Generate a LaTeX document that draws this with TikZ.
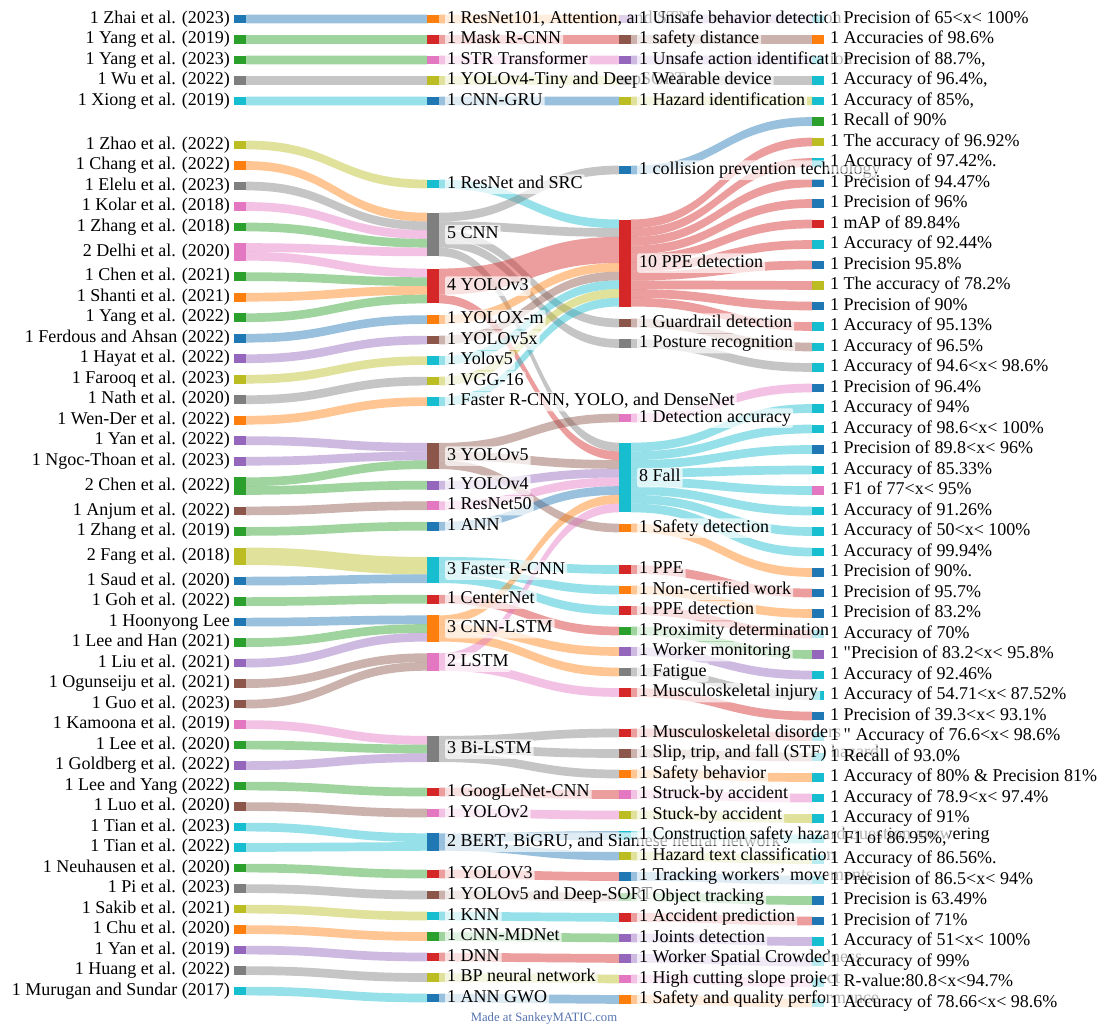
\documentclass[tikz,border=0pt]{standalone}
\usepackage{fontspec}
\setmainfont{Liberation Serif}
\newfontfamily\rawserif[Ligatures=TeXOff]{Liberation Serif}
\usetikzlibrary{calc}
\definecolor{cBlue}{HTML}{1F77B4}
\definecolor{cOrange}{HTML}{FF7F0E}
\definecolor{cGreen}{HTML}{2CA02C}
\definecolor{cRed}{HTML}{D62728}
\definecolor{cPurple}{HTML}{9467BD}
\definecolor{cBrown}{HTML}{8C564B}
\definecolor{cPink}{HTML}{E377C2}
\definecolor{cGray}{HTML}{7F7F7F}
\definecolor{cOlive}{HTML}{BCBD22}
\definecolor{cCyan}{HTML}{17BECF}
\definecolor{footBlue}{RGB}{85,115,175}
\newcommand\lab{\fontsize{18}{20}\selectfont}
\newcommand\sdq{{\rawserif"}}
% flow band: source node, source offset (units), target node, target offset, value, colour
\newcommand\sflow[6]{%
 \fill[fill=#6,fill opacity=0.45] ($(#1.north east)+(0,#2*8.7)$)
   .. controls +(90,0) and +(-90,0) .. ($(#3.north west)+(0,#4*8.7)$)
   -- ++(0,#5*8.7)
   .. controls +(-90,0) and +(90,0) .. ($(#1.north east)+(0,{(#2+#5)*8.7})$) -- cycle;}
\tikzset{
 sbar/.style={rectangle,fill=#1,draw=none,minimum width=12pt,inner sep=0pt,outer sep=0pt},
 lbl/.style={fill=white,fill opacity=0.7,text opacity=1,inner xsep=2pt,inner ysep=1.5pt,
   text height=12.5pt,text depth=4pt,rounded corners=2pt,font=\lab},
 lblL/.style={lbl,anchor=east},
 lblR/.style={lbl,anchor=west}
}
\begin{document}
\begin{tikzpicture}[x=1pt,y=-1pt]
\useasboundingbox[fill=white] (0,0) rectangle (1104,1025);
% ---------- nodes (bars) ----------
\foreach \yy/\cl/\hh [count=\i] in {19/cBlue/8.7,39.5/cGreen/8.7,60/cGreen/8.7,80.5/cGray/8.7,101/cCyan/8.7,
 145/cOlive/8.7,165.5/cOrange/8.7,186/cGray/8.7,206.5/cPink/8.7,227/cGreen/8.7,251.9/cPink/17.4,
 276.7/cGreen/8.7,297.2/cOrange/8.7,317.7/cGreen/8.7,338.2/cBlue/8.7,358.7/cPurple/8.7,379.2/cOlive/8.7,
 399.7/cGray/8.7,420.2/cOrange/8.7,440.7/cPurple/8.7,461.2/cPurple/8.7,486.1/cGreen/17.4,510.9/cBrown/8.7,
 531.4/cGreen/8.7,556.3/cOlive/17.4,581.1/cBlue/8.7,601.6/cGreen/8.7,622.1/cBlue/8.7,642.6/cGreen/8.7,
 663.1/cPurple/8.7,683.6/cBrown/8.7,704.1/cBrown/8.7,724.6/cPink/8.7,745.1/cGreen/8.7,765.6/cPurple/8.7,
 786.1/cGreen/8.7,806.6/cBrown/8.7,827.1/cCyan/8.7,847.6/cCyan/8.7,868.1/cGreen/8.7,888.6/cGray/8.7,
 909.1/cOlive/8.7,929.6/cOrange/8.7,950.1/cPurple/8.7,970.6/cGray/8.7,991.1/cCyan/8.7}
 {\node[sbar=\cl,minimum height=\hh pt] (a\i) at (240,\yy) {};}
\foreach \yy/\cl/\hh [count=\i] in {19/cOrange/8.7,39.5/cRed/8.7,60/cPink/8.7,80.5/cOlive/8.7,101/cBlue/8.7,
 184/cCyan/8.7,234.5/cGray/43.5,286/cRed/34.8,319.6/cOrange/8.7,340.1/cBrown/8.7,360.6/cCyan/8.7,
 381.1/cOlive/8.7,401.6/cCyan/8.7,456/cBrown/26.1,485.2/cPurple/8.7,505.7/cPink/8.7,526.2/cBlue/8.7,
 570/cCyan/26.1,599.2/cRed/8.7,628.5/cOrange/26.1,662/cPink/17.4,749/cGray/26.1,792/cRed/8.7,
 813/cPink/8.7,842/cBlue/17.4,874/cRed/8.7,895/cBrown/8.7,916/cCyan/8.7,936.5/cGreen/8.7,957/cRed/8.7,
 977.5/cOlive/8.7,998/cBlue/8.7}
 {\node[sbar=\cl,minimum height=\hh pt] (b\i) at (433,\yy) {};}
\foreach \yy/\cl/\hh [count=\i] in {19/cPurple/8.7,39.5/cBrown/8.7,60/cPurple/8.7,80.5/cGray/8.7,101/cOlive/8.7,
 170/cBlue/8.7,263/cRed/87,323/cBrown/8.7,343.5/cGray/8.7,418/cPink/8.7,477.5/cCyan/69.6,528/cOrange/8.7,
 569.5/cRed/8.7,590/cOrange/8.7,610.5/cRed/8.7,631/cGreen/8.7,651.5/cPurple/8.7,672/cGray/8.7,
 692.5/cRed/8.7,733/cRed/8.7,753.5/cBrown/8.7,774/cOrange/8.7,794.5/cPink/8.7,815/cOlive/8.7,
 835.5/cCyan/8.7,856/cOlive/8.7,876.5/cBlue/8.7,897/cGreen/8.7,917.5/cRed/8.7,938/cPurple/8.7,
 958.5/cPurple/8.7,979/cPink/8.7,999.5/cOrange/8.7}
 {\node[sbar=\cl,minimum height=\hh pt] (c\i) at (625,\yy) {};}
\foreach \cl [count=\i from 0] in {cCyan,cOrange,cCyan,cCyan,cCyan,cGreen,cOlive,cCyan,cBlue,cBlue,
 cRed,cCyan,cBlue,cOlive,cBlue,cCyan,cCyan,cCyan,cBlue,cCyan,cCyan,cBlue,cCyan,cPink,cCyan,cCyan,cCyan,
 cBlue,cBlue,cBlue,cCyan,cPurple,cCyan,cCyan,cBlue,cCyan,cCyan,cCyan,cCyan,cCyan,cCyan,cCyan,cCyan,
 cBlue,cBlue,cCyan,cCyan,cCyan,cCyan}
 {\node[sbar=\cl,minimum height=8.7pt] (d\i) at (818,{19+20.5*\i}) {};}
% ---------- flows: authors -> methods ----------
\begin{scope}
\sflow{a1}{0}{b1}{0}{1}{cBlue}
\sflow{a2}{0}{b2}{0}{1}{cGreen}
\sflow{a3}{0}{b3}{0}{1}{cGreen}
\sflow{a4}{0}{b4}{0}{1}{cGray}
\sflow{a5}{0}{b5}{0}{1}{cCyan}
\sflow{a6}{0}{b6}{0}{1}{cOlive}
\sflow{a7}{0}{b7}{0}{1}{cOrange}
\sflow{a8}{0}{b7}{1}{1}{cGray}
\sflow{a9}{0}{b7}{2}{1}{cPink}
\sflow{a10}{0}{b7}{3}{1}{cGreen}
\sflow{a11}{0}{b7}{4}{1}{cPink}
\sflow{a11}{1}{b8}{0}{1}{cPink}
\sflow{a12}{0}{b8}{1}{1}{cGreen}
\sflow{a13}{0}{b8}{2}{1}{cOrange}
\sflow{a14}{0}{b8}{3}{1}{cGreen}
\sflow{a15}{0}{b9}{0}{1}{cBlue}
\sflow{a16}{0}{b10}{0}{1}{cPurple}
\sflow{a17}{0}{b11}{0}{1}{cOlive}
\sflow{a18}{0}{b12}{0}{1}{cGray}
\sflow{a19}{0}{b13}{0}{1}{cOrange}
\sflow{a20}{0}{b14}{0}{1}{cPurple}
\sflow{a21}{0}{b14}{1}{1}{cPurple}
\sflow{a22}{0}{b14}{2}{1}{cGreen}
\sflow{a22}{1}{b15}{0}{1}{cGreen}
\sflow{a23}{0}{b16}{0}{1}{cBrown}
\sflow{a24}{0}{b17}{0}{1}{cGreen}
\sflow{a25}{0}{b18}{0}{2}{cOlive}
\sflow{a26}{0}{b18}{2}{1}{cBlue}
\sflow{a27}{0}{b19}{0}{1}{cGreen}
\sflow{a28}{0}{b20}{0}{1}{cBlue}
\sflow{a29}{0}{b20}{1}{1}{cGreen}
\sflow{a30}{0}{b20}{2}{1}{cPurple}
\sflow{a31}{0}{b21}{0}{1}{cBrown}
\sflow{a32}{0}{b21}{1}{1}{cBrown}
\sflow{a33}{0}{b22}{0}{1}{cPink}
\sflow{a34}{0}{b22}{1}{1}{cGreen}
\sflow{a35}{0}{b22}{2}{1}{cPurple}
\sflow{a36}{0}{b23}{0}{1}{cGreen}
\sflow{a37}{0}{b24}{0}{1}{cBrown}
\sflow{a38}{0}{b25}{0}{1}{cCyan}
\sflow{a39}{0}{b25}{1}{1}{cCyan}
\sflow{a40}{0}{b26}{0}{1}{cGreen}
\sflow{a41}{0}{b27}{0}{1}{cGray}
\sflow{a42}{0}{b28}{0}{1}{cOlive}
\sflow{a43}{0}{b29}{0}{1}{cOrange}
\sflow{a44}{0}{b30}{0}{1}{cPurple}
\sflow{a45}{0}{b31}{0}{1}{cGray}
\sflow{a46}{0}{b32}{0}{1}{cCyan}
% ---------- flows: methods -> tasks ----------
\sflow{b1}{0}{c1}{0}{1}{cOrange}
\sflow{b2}{0}{c2}{0}{1}{cRed}
\sflow{b3}{0}{c3}{0}{1}{cPink}
\sflow{b4}{0}{c4}{0}{1}{cOlive}
\sflow{b5}{0}{c5}{0}{1}{cBlue}
\sflow{b6}{0}{c7}{0}{1}{cCyan}
\sflow{b7}{0}{c6}{0}{1}{cGray}
\sflow{b7}{1}{c7}{1}{1}{cGray}
\sflow{b7}{2}{c8}{0}{1}{cGray}
\sflow{b7}{3}{c9}{0}{1}{cGray}
\sflow{b7}{4}{c11}{0}{1}{cGray}
\sflow{b8}{0}{c7}{2}{3}{cRed}
\sflow{b8}{3}{c11}{1}{1}{cRed}
\sflow{b9}{0}{c7}{5}{1}{cOrange}
\sflow{b10}{0}{c7}{6}{1}{cBrown}
\sflow{b11}{0}{c7}{7}{1}{cCyan}
\sflow{b12}{0}{c7}{8}{1}{cOlive}
\sflow{b13}{0}{c7}{9}{1}{cCyan}
\sflow{b14}{0}{c10}{0}{1}{cBrown}
\sflow{b14}{1}{c11}{2}{1}{cBrown}
\sflow{b14}{2}{c12}{0}{1}{cBrown}
\sflow{b15}{0}{c11}{3}{1}{cPurple}
\sflow{b16}{0}{c11}{4}{1}{cPink}
\sflow{b17}{0}{c11}{5}{1}{cBlue}
\sflow{b18}{0}{c13}{0}{1}{cCyan}
\sflow{b18}{1}{c14}{0}{1}{cCyan}
\sflow{b18}{2}{c15}{0}{1}{cCyan}
\sflow{b19}{0}{c16}{0}{1}{cRed}
\sflow{b20}{0}{c11}{6}{1}{cOrange}
\sflow{b20}{1}{c17}{0}{1}{cOrange}
\sflow{b20}{2}{c18}{0}{1}{cOrange}
\sflow{b21}{0}{c11}{7}{1}{cPink}
\sflow{b21}{1}{c19}{0}{1}{cPink}
\sflow{b22}{0}{c20}{0}{1}{cGray}
\sflow{b22}{1}{c21}{0}{1}{cGray}
\sflow{b22}{2}{c22}{0}{1}{cGray}
\sflow{b23}{0}{c23}{0}{1}{cRed}
\sflow{b24}{0}{c24}{0}{1}{cPink}
\sflow{b25}{0}{c25}{0}{1}{cBlue}
\sflow{b25}{1}{c26}{0}{1}{cBlue}
\sflow{b26}{0}{c27}{0}{1}{cRed}
\sflow{b27}{0}{c28}{0}{1}{cBrown}
\sflow{b28}{0}{c29}{0}{1}{cCyan}
\sflow{b29}{0}{c30}{0}{1}{cGreen}
\sflow{b30}{0}{c31}{0}{1}{cRed}
\sflow{b31}{0}{c32}{0}{1}{cOlive}
\sflow{b32}{0}{c33}{0}{1}{cBlue}
% ---------- flows: tasks -> results ----------
\foreach \fsrc/\foff/\ftg/\fcol in {c1/0/0/cPurple,c2/0/1/cBrown,c3/0/2/cPurple,c4/0/3/cGray,
 c5/0/4/cOlive,c6/0/5/cBlue,c7/0/6/cRed,c7/1/7/cRed,c7/2/8/cRed,c7/3/9/cRed,c7/4/10/cRed,c7/5/11/cRed,
 c7/6/12/cRed,c7/7/13/cRed,c7/8/14/cRed,c7/9/15/cRed,c8/0/16/cBrown,c9/0/17/cGray,c10/0/18/cPink,
 c11/0/19/cCyan,c11/1/20/cCyan,c11/2/21/cCyan,c11/3/22/cCyan,c11/4/23/cCyan,c11/5/24/cCyan,
 c11/6/25/cCyan,c11/7/26/cCyan,c12/0/27/cOrange,c13/0/28/cRed,c14/0/29/cOrange,c15/0/30/cRed,
 c16/0/31/cGreen,c17/0/32/cPurple,c18/0/33/cGray,c19/0/34/cRed,c20/0/35/cRed,c21/0/36/cBrown,
 c22/0/37/cOrange,c23/0/38/cPink,c24/0/39/cOlive,c25/0/40/cCyan,c26/0/41/cOlive,c27/0/42/cBlue,
 c28/0/43/cGreen,c29/0/44/cRed,c30/0/45/cPurple,c31/0/46/cPurple,c32/0/47/cPink,c33/0/48/cOrange}
 {\sflow{\fsrc}{\foff}{d\ftg}{0}{1}{\fcol}}
\end{scope}
% ---------- labels ----------
\foreach \yy/\tx [count=\i] in {19/{1 Zhai et al. (2023)},39.5/{1 Yang et al. (2019)},60/{1 Yang et al. (2023)},
 80.5/{1 Wu et al. (2022)},101/{1 Xiong et al. (2019)},145/{1 Zhao et al. (2022)},165.5/{1 Chang et al. (2022)},
 186/{1 Elelu et al. (2023)},206.5/{1 Kolar et al. (2018)},227/{1 Zhang et al. (2018)},251.9/{2 Delhi et al. (2020)},
 276.7/{1 Chen et al. (2021)},297.2/{1 Shanti et al. (2021)},317.7/{1 Yang et al. (2022)},
 338.2/{1 Ferdous and Ahsan (2022)},358.7/{1 Hayat et al. (2022)},379.2/{1 Farooq et al. (2023)},
 399.7/{1 Nath et al. (2020)},420.2/{1 Wen-Der et al. (2022)},440.7/{1 Yan et al. (2022)},
 461.2/{1 Ngoc-Thoan et al. (2023)},486.1/{2 Chen et al. (2022)},510.9/{1 Anjum et al. (2022)},
 531.4/{1 Zhang et al. (2019)},556.3/{2 Fang et al. (2018)},581.1/{1 Saud et al. (2020)},
 601.6/{1 Goh et al. (2022)},622.1/{1 Hoonyong Lee},642.6/{1 Lee and Han (2021)},663.1/{1 Liu et al. (2021)},
 683.6/{1 Ogunseiju et al. (2021)},704.1/{1 Guo et al. (2023)},724.6/{1 Kamoona et al. (2019)},
 745.1/{1 Lee et al. (2020)},765.6/{1 Goldberg et al. (2022)},786.1/{1 Lee and Yang (2022)},
 806.6/{1 Luo et al. (2020)},827.1/{1 Tian et al. (2023)},847.6/{1 Tian et al. (2022)},
 868.1/{1 Neuhausen et al. (2020)},888.6/{1 Pi et al. (2023)},909.1/{1 Sakib et al. (2021)},
 929.6/{1 Chu et al. (2020)},950.1/{1 Yan et al. (2019)},970.6/{1 Huang et al. (2022)},
 991.1/{1 Murugan and Sundar (2017)}}
 {\node[lblL] (la\i) at (232,\yy) {\tx};}
\foreach \yy/\tx [count=\i] in {19/{1 ResNet101, Attention, and STN},39.5/{1 Mask R-CNN},60/{1 STR Transformer},
 80.5/{1 YOLOv4-Tiny and DeepSORT},101/{1 CNN-GRU},184/{1 ResNet and SRC},234.5/{5 CNN},286/{4 YOLOv3},
 319.6/{1 YOLOX-m},340.1/{1 YOLOv5x},360.6/{1 Yolov5},381.1/{1 VGG-16},401.6/{1 Faster R-CNN, YOLO, and DenseNet},
 456/{3 YOLOv5},485.2/{1 YOLOv4},505.7/{1 ResNet50},526.2/{1 ANN},570/{3 Faster R-CNN},599.2/{1 CenterNet},
 628.5/{3 CNN-LSTM},662/{2 LSTM},749/{3 Bi-LSTM},792/{1 GoogLeNet-CNN},813/{1 YOLOv2},
 842/{2 BERT, BiGRU, and Siamese neural network},874/{1 YOLOV3},895/{1 YOLOv5 and Deep-SORT},916/{1 KNN},
 936.5/{1 CNN-MDNet},957/{1 DNN},977.5/{1 BP neural network},998/{1 ANN GWO}}
 {\node[lblR] (lb\i) at (445,\yy) {\tx};}
\foreach \yy/\tx [count=\i] in {19/{1 Unsafe behavior detection},39.5/{1 safety distance},
 60/{1 Unsafe action identification},80.5/{1 Wearable device},101/{1 Hazard identification},
 170/{1 collision prevention technology},263/{10 PPE detection},323/{1 Guardrail detection},
 343.5/{1 Posture recognition},418/{1 Detection accuracy},477.5/{8 Fall},528/{1 Safety detection},
 569.5/{1 PPE},590/{1 Non-certified work},610.5/{1 PPE detection},631/{1 Proximity determination},
 651.5/{1 Worker monitoring},672/{1 Fatigue},692.5/{1 Musculoskeletal injury},733/{1 Musculoskeletal disorders},
 753.5/{1 Slip, trip, and fall (STF) hazard},774/{1 Safety behavior},794.5/{1 Struck-by accident},
 815/{1 Stuck-by accident},835.5/{1 Construction safety hazard question answering},
 856/{1 Hazard text classification},876.5/{1 Tracking workers' movements},897/{1 Object tracking},
 917.5/{1 Accident prediction},938/{1 Joints detection},958.5/{1 Worker Spatial Crowdedness},
 979/{1 High cutting slope project},999.5/{1 Safety and quality performance}}
 {\node[lblR] (lc\i) at (637,\yy) {\tx};}
\foreach \tx [count=\i from 0] in {{1 Precision of 65<x< 100\%},{1 Accuracies of 98.6\%},{1 Precision of 88.7\%,},
 {1 Accuracy of 96.4\%,},{1 Accuracy of 85\%,},{1 Recall of 90\%},{1 The accuracy of 96.92\%},
 {1 Accuracy of 97.42\%.},{1 Precision of 94.47\%},{1 Precision of 96\%},{1 mAP of 89.84\%},
 {1 Accuracy of 92.44\%},{1 Precision 95.8\%},{1 The accuracy of 78.2\%},{1 Precision of 90\%},
 {1 Accuracy of 95.13\%},{1 Accuracy of 96.5\%},{1 Accuracy of 94.6<x< 98.6\%},{1 Precision of 96.4\%},
 {1 Accuracy of 94\%},{1 Accuracy of 98.6<x< 100\%},{1 Precision of 89.8<x< 96\%},{1 Accuracy of 85.33\%},
 {1 F1 of 77<x< 95\%},{1 Accuracy of 91.26\%},{1 Accuracy of 50<x< 100\%},{1 Accuracy of 99.94\%},
 {1 Precision of 90\%.},{1 Precision of 95.7\%},{1 Precision of 83.2\%},{1 Accuracy of 70\%},
 {1 \sdq Precision of 83.2<x< 95.8\%},{1 Accuracy of 92.46\%},{1 Accuracy of 54.71<x< 87.52\%},
 {1 Precision of 39.3<x< 93.1\%},{1 \sdq{} Accuracy of 76.6<x< 98.6\%},{1 Recall of 93.0\%},
 {1 Accuracy of 80\% \& Precision 81\%},{1 Accuracy of 78.9<x< 97.4\%},{1 Accuracy of 91\%},
 {1 F1 of 86.95\%,},{1 Accuracy of 86.56\%.},{1 Precision of 86.5<x< 94\%},{1 Precision is 63.49\%},
 {1 Precision of 71\%},{1 Accuracy of 51<x< 100\%},{1 Accuracy of 99\%},{1 R-value:80.8<x<94.7\%},
 {1 Accuracy of 78.66<x< 98.6\%}}
 {\node[lblR] (ld\i) at (828,{19+20.5*\i}) {\tx};}
\node[font=\fontsize{12.7}{14}\selectfont,text=footBlue] (foot) at (544,1018) {Made at SankeyMATIC.com};
\end{tikzpicture}
\end{document}
